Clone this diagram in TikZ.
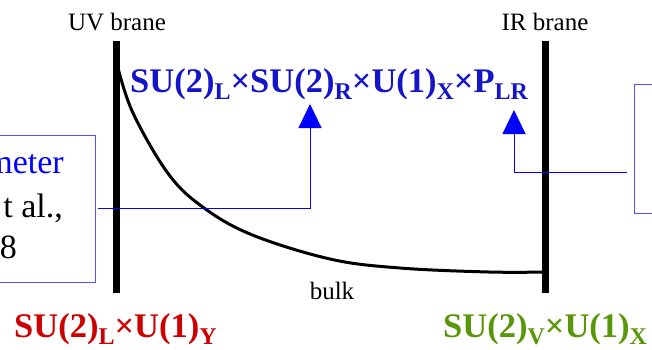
\documentclass[tikz,border=0pt]{standalone}
\usepackage{fontspec}
\setmainfont{Liberation Serif}
\usepackage{tikz}
\definecolor{titleblue}{RGB}{20,20,200}
\definecolor{boxblue}{RGB}{80,80,255}
\definecolor{uvred}{RGB}{204,0,0}
\definecolor{irgreen}{RGB}{90,150,10}
\usetikzlibrary{arrows.meta}
\newcommand{\lowsub}[1]{\raisebox{-7pt}{\fontsize{24}{24}\selectfont #1}}

\begin{document}
\begin{tikzpicture}[x=1pt, y=-1pt,
		brane/.style={line width=7pt},
		pointer/.style={blue, line width=1pt, -{Triangle[width=23pt,length=24pt]}},
		infobox/.style={draw=boxblue, line width=1pt, minimum width=155pt, minimum height=147pt, outer sep=3pt},
		group/.style={font=\fontsize{34.5}{34.5}\selectfont\bfseries, inner sep=0pt},
		branetext/.style={font=\fontsize{25}{25}\selectfont, inner sep=0pt},
		boxtext/.style={font=\fontsize{34}{34}\selectfont, inner sep=0pt, anchor=base east}]
		%Bildbereich
		\useasboundingbox (0,0) rectangle (652,349);
		\clip (0,0) rectangle (652,349);
		% Branes
		\draw[brane] (116,41) -- (116,293);
		\draw[brane] (545,41) -- (545,293);
		\node[branetext, anchor=base] (uv) at (117,30) {UV brane};
		\node[branetext, anchor=base] (ir) at (545,30) {IR brane};
		\node[branetext, anchor=base] (bulk) at (332,299) {bulk};
		% Profil
		\draw[line width=3pt] plot[smooth, tension=0.6] coordinates {(118,68) (133,113) (167,172) (200,205) (250,234) (330,259) (400,268) (489,272) (545,272)};
		% Symmetriegruppen
		\node[group, titleblue, anchor=base west] (bulkgroup) at (130,92)
			{SU(2)\lowsub{L}×SU(2)\lowsub{R}×U(1)\lowsub{X}×P\lowsub{LR}};
		\node[group, uvred, anchor=base west] (uvgroup) at (14,337) {SU(2)\lowsub{L}×U(1)\lowsub{Y}};
		\node[group, irgreen, anchor=base west] (irgroup) at (443,337) {SU(2)\lowsub{V}×U(1)\lowsub{X}};
		% Kaesten
		\node[infobox] (lbox) at (17.5,208.5) {};
		\node[infobox, minimum height=129pt] (rbox) at (711.5,148.5) {};
		\node[boxtext, blue] (lline1) at (64,173) {meter};
		\node[boxtext] (lline2) at (63,217) {t al.,};
		\node[boxtext] (lline3) at (17,258) {8};
		% Pfeile
		\coordinate (tipA) at (310,104);
		\coordinate (tipB) at (514,110);
		\draw[pointer] (lbox.east) -| (tipA);
		\draw[pointer] ([xshift=-4pt,yshift=-23.5pt]rbox.west) -| (tipB);
	\end{tikzpicture}
\end{document}
